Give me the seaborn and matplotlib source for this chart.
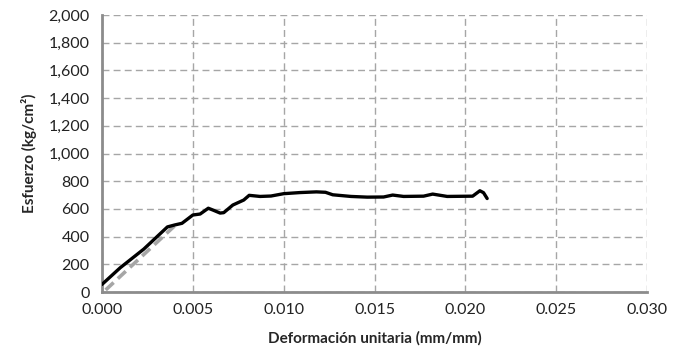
import matplotlib
matplotlib.use("Agg")
import matplotlib.pyplot as plt
import seaborn as sns
import pandas as pd
from matplotlib.ticker import FuncFormatter, MultipleLocator

strain = [0.0000, 0.0010, 0.0023, 0.0036, 0.0040, 0.0044, 0.0050, 0.0054, 0.00585,
          0.0061, 0.0065, 0.0067, 0.0072, 0.0078, 0.0081, 0.0087, 0.0093, 0.0100,
          0.0109, 0.0118, 0.0123, 0.0127, 0.0137, 0.0146, 0.0155, 0.0160, 0.0166,
          0.0177, 0.0182, 0.0190, 0.0204, 0.0208, 0.0210, 0.0212]
stress = [55, 175, 310, 470, 484, 496, 556, 563, 605,
          592, 570, 573, 628, 664, 698, 690, 693, 710,
          718, 723, 720, 702, 690, 685, 686, 700, 690,
          692, 707, 690, 692, 731, 717, 675]

elastic_strain = [0.0002, 0.0040]
elastic_stress = [15, 478]

sns.set_theme(style="white")
plt.rcParams['font.family'] = ['Lato', 'DejaVu Sans']

fig = plt.figure(figsize=(6.73, 3.49), dpi=100)
ax = fig.add_axes([0.1516, 0.1633, 0.8098, 0.7937])

df_el = pd.DataFrame({"x": elastic_strain, "y": elastic_stress})
df = pd.DataFrame({"x": strain, "y": stress})

sns.lineplot(data=df_el, x="x", y="y", ax=ax, color="#a6a6a6", linewidth=2.6,
             linestyle=(0, (3, 1.6)), sort=False, zorder=3)
sns.lineplot(data=df, x="x", y="y", ax=ax, color="black", linewidth=2.4,
             sort=False, zorder=4)

ax.set_xlim(0, 0.030)
ax.set_ylim(0, 2000)
ax.xaxis.set_major_locator(MultipleLocator(0.005))
ax.yaxis.set_major_locator(MultipleLocator(200))
ax.xaxis.set_major_formatter(FuncFormatter(lambda v, p: f"{v:.3f}"))
ax.yaxis.set_major_formatter(FuncFormatter(lambda v, p: f"{v:,.0f}"))

ax.grid(True, color="#a6a6a6", linestyle=(0, (5, 3)), linewidth=1.0)
ax.set_axisbelow(True)
for s in ["top", "right"]:
    ax.spines[s].set_visible(False)
for s in ["left", "bottom"]:
    ax.spines[s].set_color("#8c8c8c")
    ax.spines[s].set_linewidth(2.0)
ax.tick_params(axis="both", length=0, labelsize=11.5, colors="#222222")
ax.tick_params(axis="y", pad=9)
ax.tick_params(axis="x", pad=8)

ax.set_xlabel("Deformación unitaria (mm/mm)", fontsize=11, fontweight="bold", labelpad=10)
ax.set_ylabel("Esfuerzo (kg/cm²)", fontsize=11, fontweight="bold", labelpad=8)

fig.savefig("out.png", dpi=100)
